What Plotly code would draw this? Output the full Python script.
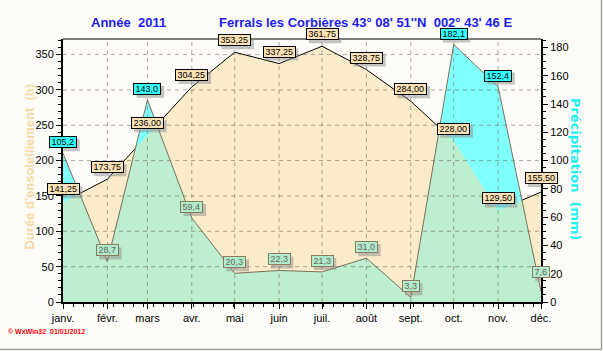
import plotly.graph_objects as go
import pandas as pd

# ---------------- data ----------------
months = ["2011-01-01", "2011-02-01", "2011-03-01", "2011-04-01", "2011-05-01", "2011-06-01",
          "2011-07-01", "2011-08-01", "2011-09-01", "2011-10-01", "2011-11-01", "2011-12-01"]
month_labels = ["janv.", "févr.", "mars", "avr.", "mai", "juin",
                "juil.", "août", "sept.", "oct.", "nov.", "déc."]
sunshine = [141.25, 173.75, 236.00, 304.25, 353.25, 337.25, 361.75, 328.75, 284.00, 228.00, 129.50, 155.50]
precip = [105.2, 28.7, 143.0, 59.4, 20.3, 22.3, 21.3, 31.0, 3.3, 182.1, 152.4, 7.6]
left_ticks = [0, 50, 100, 150, 200, 250, 300, 350]
right_ticks = [0, 20, 40, 60, 80, 100, 120, 140, 160, 180]

# ---------------- style ----------------
W, H = 603, 351
ML, MR, MT, MB = 63, 62, 39, 49
Y1MAX, Y2MAX = 372.0, 186.0
BG = "#FDFCF8"
BEIGE = "#FAEBCB"
CYAN = "#80FFFF"
GREEN = "#BDEECF"
FONT = "Liberation Sans"

pw, ph = W - ML - MR, H - MT - MB


def px(x):
    return (x - ML) / pw


def py(y):
    return (H - MB - y) / ph


dates = pd.to_datetime(months)
k = Y2MAX / Y1MAX
s2 = [v * k for v in sunshine]

# overlap curve (minimum of both series, in right-axis units)
t0 = dates[0]
xd = [(d - t0).total_seconds() for d in dates]
ox, oy = [], []
for i in range(len(xd)):
    ox.append(xd[i]); oy.append(min(s2[i], precip[i]))
    if i < len(xd) - 1:
        d0 = s2[i] - precip[i]
        d1 = s2[i + 1] - precip[i + 1]
        if d0 * d1 < 0:
            t = d0 / (d0 - d1)
            ox.append(xd[i] + t * (xd[i + 1] - xd[i]))
            oy.append(precip[i] + t * (precip[i + 1] - precip[i]))
ox = [t0 + pd.Timedelta(seconds=v) for v in ox]

fig = go.Figure()
fig.add_trace(go.Scatter(x=dates, y=sunshine, mode="lines", line=dict(width=0, color=BEIGE),
                         fill="tozeroy", fillcolor=BEIGE, yaxis="y", hoverinfo="skip"))
fig.add_trace(go.Scatter(x=dates, y=precip, mode="lines", line=dict(width=0, color=CYAN),
                         fill="tozeroy", fillcolor=CYAN, yaxis="y2", hoverinfo="skip"))
fig.add_trace(go.Scatter(x=ox, y=oy, mode="lines", line=dict(width=0, color=GREEN),
                         fill="tozeroy", fillcolor=GREEN, yaxis="y2", hoverinfo="skip"))
fig.add_trace(go.Scatter(x=dates, y=precip, mode="lines", line=dict(width=1, color="#7E7058"),
                         yaxis="y2", hoverinfo="skip"))
fig.add_trace(go.Scatter(x=dates, y=sunshine, mode="lines", line=dict(width=1, color="#000000"),
                         yaxis="y", hoverinfo="skip"))

shapes = []
grid_col = "rgba(110,100,80,0.55)"
for v in left_ticks[1:]:
    shapes.append(dict(type="line", xref="paper", yref="y", x0=0, x1=1, y0=v, y1=v,
                       line=dict(color=grid_col, width=1, dash="4px,4px"), layer="above"))
for d in dates[1:-1]:
    shapes.append(dict(type="line", xref="x", yref="paper", x0=d, x1=d, y0=0, y1=1,
                       line=dict(color=grid_col, width=1, dash="4px,4px"), layer="above"))
# top frame line
shapes.append(dict(type="line", xref="paper", yref="paper", x0=0, x1=1, y0=1, y1=1,
                   line=dict(color="#000", width=1), layer="above"))
# outer window border (right and bottom)
shapes.append(dict(type="line", xref="paper", yref="paper", x0=px(0), x1=px(601.5),
                   y0=py(349.5), y1=py(349.5), line=dict(color="#A0A0A0", width=1.5)))
shapes.append(dict(type="line", xref="paper", yref="paper", x0=px(601.5), x1=px(601.5),
                   y0=py(0), y1=py(349.5), line=dict(color="#A0A0A0", width=1.5)))

annotations = []
BOX_H = 8


def text_w(t):
    return sum(2.5 if c == "," else 5.0 for c in t) + 1


def label(x, y, yref, text, bg, border, fc, ys):
    w = text_w(text)
    tw, th = w + 4, BOX_H + 4
    shapes.append(dict(type="rect", xref="x", yref=yref, xsizemode="pixel", ysizemode="pixel",
                       xanchor=x, yanchor=y, x0=-tw / 2 + 3, x1=tw / 2 + 3,
                       y0=ys - th / 2 - 3, y1=ys + th / 2 - 3,
                       fillcolor="rgba(140,140,140,0.5)", line=dict(width=0), layer="above"))
    annotations.append(dict(x=x, y=y, xref="x", yref=yref, text=text, showarrow=False,
                            font=dict(family=FONT, size=9, color=fc), width=w, align="center",
                            bgcolor=bg, borderwidth=1, bordercolor=border, borderpad=1,
                            height=BOX_H, yshift=ys))


sun_shift = {0: 13, 6: 12, 11: 14}
pre_shift = {11: 19}
for i, d in enumerate(dates):
    txt = f"{sunshine[i]:.2f}".replace(".", ",")
    label(d, sunshine[i], "y", txt, "#FBE2B6", "#000000", "#000000", sun_shift.get(i, 12))
for i, d in enumerate(dates):
    txt = f"{precip[i]:.1f}".replace(".", ",")
    if precip[i] > s2[i]:
        label(d, precip[i], "y2", txt, "#33FFFF", "#000000", "#000000", pre_shift.get(i, 11))
    else:
        label(d, precip[i], "y2", txt, "#AEEBCF", "#8C7C5C", "#6E6450", pre_shift.get(i, 11))

# titles
annotations.append(dict(xref="paper", yref="paper", x=px(128), y=py(22), text="<b>Année  2011</b>",
                        showarrow=False, font=dict(family=FONT, size=13, color="#2020EE"),
                        xanchor="center", yanchor="middle"))
annotations.append(dict(xref="paper", yref="paper", x=px(365), y=py(22),
                        text="<b>Ferrals les Corbières 43° 08' 51''N  002° 43' 46 E</b>",
                        showarrow=False, font=dict(family=FONT, size=13, color="#2020EE"),
                        xanchor="center", yanchor="middle"))
annotations.append(dict(xref="paper", yref="paper", x=px(28.5), y=py(167),
                        text="<b>Durée d'ensoleillement  (h)</b>", textangle=-90,
                        showarrow=False, font=dict(family=FONT, size=13, color="#F7D9A6"),
                        xanchor="center", yanchor="middle"))
annotations.append(dict(xref="paper", yref="paper", x=px(576), y=py(169),
                        text="<b>Précipitation  (mm)</b>", textangle=90,
                        showarrow=False, font=dict(family="DejaVu Sans", size=13, color="#1EF0F0"),
                        xanchor="center", yanchor="middle"))
annotations.append(dict(xref="paper", yref="paper", x=px(6), y=py(331.5),
                        text="<b>© WxWin32  01/01/2012</b>",
                        showarrow=False, font=dict(family=FONT, size=7, color="#FF0000"),
                        xanchor="left", yanchor="middle"))

tickfont = dict(family=FONT, size=11, color="#000")
fig.update_layout(
    width=W, height=H, margin=dict(l=ML, r=MR, t=MT, b=MB),
    paper_bgcolor=BG, plot_bgcolor=BG, showlegend=False,
    xaxis=dict(type="date", range=[dates[0], dates[-1]], tickvals=list(dates), ticktext=month_labels,
               showgrid=False, zeroline=False, showline=True, linecolor="#000", linewidth=2,
               ticks="outside", ticklen=5, tickcolor="#000", tickfont=tickfont,
               minor=dict(dtick=7 * 86400000, tick0=months[0], ticks="outside", ticklen=3,
                          tickcolor="#000", showgrid=False)),
    yaxis=dict(range=[0, Y1MAX], tickvals=left_ticks, showgrid=False, zeroline=False,
               showline=True, linecolor="#000", linewidth=2, ticks="outside", ticklen=5,
               tickcolor="#000", tickfont=tickfont,
               minor=dict(dtick=10, ticks="outside", ticklen=3, tickcolor="#000", showgrid=False)),
    yaxis2=dict(range=[0, Y2MAX], tickvals=right_ticks, overlaying="y", side="right",
                showgrid=False, zeroline=False, showline=True, linecolor="#000", linewidth=2,
                ticks="outside", ticklen=5, tickcolor="#000", tickfont=tickfont,
                minor=dict(dtick=5, ticks="outside", ticklen=3, tickcolor="#000", showgrid=False)),
    shapes=shapes, annotations=annotations,
)

fig.write_html("out.html")
